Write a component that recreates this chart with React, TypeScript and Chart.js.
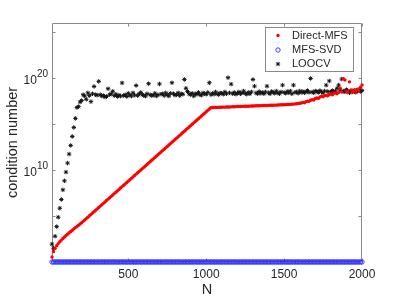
import React, { useEffect, useRef } from 'react';
import { Chart, registerables } from 'chart.js';

Chart.register(...registerables);

// N values (x)
const nValues = [
  10, 20, 30, 40, 50, 60, 70, 80, 90, 100, 110, 120, 130, 140, 150, 160, 170, 180, 190, 200,
  210, 220, 230, 240, 250, 260, 270, 280, 290, 300, 310, 320, 330, 340, 350, 360, 370, 380, 390, 400,
  410, 420, 430, 440, 450, 460, 470, 480, 490, 500, 510, 520, 530, 540, 550, 560, 570, 580, 590, 600,
  610, 620, 630, 640, 650, 660, 670, 680, 690, 700, 710, 720, 730, 740, 750, 760, 770, 780, 790, 800,
  810, 820, 830, 840, 850, 860, 870, 880, 890, 900, 910, 920, 930, 940, 950, 960, 970, 980, 990, 1000,
  1010, 1020, 1030, 1040, 1050, 1060, 1070, 1080, 1090, 1100, 1110, 1120, 1130, 1140, 1150, 1160, 1170, 1180, 1190, 1200,
  1210, 1220, 1230, 1240, 1250, 1260, 1270, 1280, 1290, 1300, 1310, 1320, 1330, 1340, 1350, 1360, 1370, 1380, 1390, 1400,
  1410, 1420, 1430, 1440, 1450, 1460, 1470, 1480, 1490, 1500, 1510, 1520, 1530, 1540, 1550, 1560, 1570, 1580, 1590, 1600,
  1610, 1620, 1630, 1640, 1650, 1660, 1670, 1680, 1690, 1700, 1710, 1720, 1730, 1740, 1750, 1760, 1770, 1780, 1790, 1800,
  1810, 1820, 1830, 1840, 1850, 1860, 1870, 1880, 1890, 1900, 1910, 1920, 1930, 1940, 1950, 1960, 1970, 1980, 1990, 2000,
];

// Direct-MFS condition number, as log10 exponents
const directMfsExponent = [
  0.55, 1.15, 1.5, 1.78, 2.0, 2.2, 2.38, 2.55, 2.72, 2.88, 3.03, 3.18, 3.32, 3.46, 3.6, 3.74, 3.87, 4.0, 4.13, 4.27,
  4.42, 4.57, 4.72, 4.87, 5.03, 5.18, 5.33, 5.48, 5.63, 5.78, 5.93, 6.08, 6.23, 6.38, 6.53, 6.69, 6.84, 6.99, 7.14, 7.29,
  7.44, 7.59, 7.74, 7.89, 8.05, 8.2, 8.35, 8.5, 8.65, 8.8, 8.95, 9.1, 9.25, 9.41, 9.56, 9.71, 9.86, 10.01, 10.16, 10.31,
  10.46, 10.61, 10.76, 10.91, 11.07, 11.22, 11.37, 11.52, 11.67, 11.82, 11.97, 12.12, 12.27, 12.42, 12.57, 12.73, 12.88, 13.03, 13.18, 13.33,
  13.48, 13.63, 13.78, 13.93, 14.08, 14.23, 14.39, 14.54, 14.69, 14.84, 14.99, 15.14, 15.29, 15.44, 15.59, 15.74, 15.89, 16.04, 16.19, 16.34,
  16.5, 16.65, 16.78, 16.8, 16.81, 16.81, 16.82, 16.83, 16.83, 16.84, 16.85, 16.85, 16.86, 16.87, 16.87, 16.88, 16.89, 16.89, 16.9, 16.91,
  16.91, 16.92, 16.93, 16.93, 16.94, 16.95, 16.95, 16.96, 16.97, 16.97, 16.98, 16.99, 16.99, 17.0, 17.01, 17.01, 17.02, 17.03, 17.03, 17.04,
  17.05, 17.05, 17.06, 17.07, 17.07, 17.08, 17.09, 17.1, 17.1, 17.11, 17.12, 17.13, 17.14, 17.15, 17.16, 17.18, 17.2, 17.22, 17.24, 17.27,
  17.3, 17.36, 17.33, 17.45, 17.5, 17.48, 17.6, 17.66, 17.62, 17.78, 17.85, 17.8, 17.95, 18.02, 17.98, 18.1, 18.15, 18.08, 18.22, 18.28,
  18.2, 18.35, 18.4, 18.3, 18.45, 18.9, 18.5, 19.95, 19.8, 18.55, 18.45, 19.6, 18.7, 18.5, 18.65, 18.55, 18.8, 18.6, 19.0, 19.25,
];

// MFS-SVD condition number
const mfsSvd = [
  1, 1, 1, 1, 1, 1, 1, 1, 1, 1, 1, 1, 1, 1, 1, 1, 1, 1, 1, 1,
  1, 1, 1, 1, 1, 1, 1, 1, 1, 1, 1, 1, 1, 1, 1, 1, 1, 1, 1, 1,
  1, 1, 1, 1, 1, 1, 1, 1, 1, 1, 1, 1, 1, 1, 1, 1, 1, 1, 1, 1,
  1, 1, 1, 1, 1, 1, 1, 1, 1, 1, 1, 1, 1, 1, 1, 1, 1, 1, 1, 1,
  1, 1, 1, 1, 1, 1, 1, 1, 1, 1, 1, 1, 1, 1, 1, 1, 1, 1, 1, 1,
  1, 1, 1, 1, 1, 1, 1, 1, 1, 1, 1, 1, 1, 1, 1, 1, 1, 1, 1, 1,
  1, 1, 1, 1, 1, 1, 1, 1, 1, 1, 1, 1, 1, 1, 1, 1, 1, 1, 1, 1,
  1, 1, 1, 1, 1, 1, 1, 1, 1, 1, 1, 1, 1, 1, 1, 1, 1, 1, 1, 1,
  1, 1, 1, 1, 1, 1, 1, 1, 1, 1, 1, 1, 1, 1, 1, 1, 1, 1, 1, 1,
  1, 1, 1, 1, 1, 1, 1, 1, 1, 1, 1, 1, 1, 1, 1, 1, 1, 1, 1, 1,
];

// LOOCV condition number, as log10 exponents
const loocvExponent = [
  1.95, 1.5, 2.8, 3.85, 4.87, 5.85, 6.8, 7.85, 8.83, 9.78, 10.76, 11.74, 12.68, 13.66, 14.64, 15.62, 16.8, 16.9, 17.4, 17.56,
  18.2, 18.05, 17.7, 18.4, 18.1, 17.45, 18.3, 19.1, 18.2, 18.15,
  19.65, 18.2, 18.05, 18.1, 17.95, 18.0, 18.85, 18.2, 18.3, 18.57,
  18.1, 18.25, 18.0, 18.15, 18.05, 19.48, 18.1, 18.2, 18.0, 18.35,
  18.15, 18.05, 18.4, 18.15, 19.2, 18.1, 18.3, 18.45, 18.2, 18.1,
  18.05, 18.3, 19.4, 18.2, 18.1, 18.15, 18.35, 18.05, 18.2, 19.37,
  18.25, 18.3, 18.1, 18.4, 18.2, 18.05, 18.35, 19.5, 18.3, 18.15,
  18.2, 18.4, 18.1, 18.3, 18.25, 19.86, 18.9, 18.55, 18.3, 18.2,
  18.35, 18.05, 18.3, 18.25, 18.45, 18.2, 18.15, 18.4, 18.3, 18.25,
  18.45, 19.5, 18.2, 18.35, 18.25, 18.5, 18.3, 18.2, 18.4, 18.35,
  18.25, 18.5, 18.3, 20.05, 18.4, 19.35, 18.3, 18.45, 18.25, 18.35,
  18.5, 18.3, 18.4, 18.6, 18.35, 18.25, 18.45, 18.3, 18.5, 19.86,
  19.13, 18.4, 18.3, 18.55, 18.35, 18.45, 18.3, 18.5, 19.13, 18.4,
  18.3, 18.55, 18.45, 18.35, 18.6, 18.4, 18.3, 18.5, 19.24, 18.45,
  18.35, 18.55, 18.4, 18.6, 18.3, 19.24, 18.45, 18.5, 18.35, 18.6,
  18.45, 18.55, 18.4, 18.5, 18.65, 18.45, 19.97, 18.5, 18.4, 18.6,
  18.55, 18.45, 18.65, 18.5, 18.4, 18.6, 19.24, 18.55, 19.7, 18.5,
  18.65, 18.45, 18.6, 18.9, 19.24, 18.7, 19.9, 18.6, 18.5, 18.75,
  18.55, 18.4, 18.65, 18.5, 18.7, 18.45, 18.6, 18.75, 18.55, 18.65,
];

const seriesNames = ['Direct-MFS', 'MFS-SVD', 'LOOCV'];
const xTicks = [500, 1000, 1500, 2000];
const yTicks = [1e5, 1e10, 1e15, 1e20, 1e25];
const yLabelValues = [1e10, 1e20];
const yLabelBase = ['10', '10'];
const yLabelPower = ['10', '20'];
const xTitle = 'N';
const yTitle = 'condition number';

const FONT = '"Liberation Sans", Arial, Helvetica, sans-serif';
const AXIS_COLOR = '#8a8a8a';
const TEXT_COLOR = '#262626';
const RED = '#ff0000';
const BLUE = '#2a2aff';
const BLACK = '#151515';

const boxPlugin = {
  id: 'matlabBox',
  beforeDatasetsDraw(chart: any) {
    const { ctx, chartArea, scales } = chart;
    const { left, right, top, bottom } = chartArea;
    const L = Math.round(left) + 0.5;
    const R = Math.round(right) - 0.5;
    const T = Math.round(top) + 0.5;
    const B = Math.round(bottom) - 0.5;
    ctx.save();
    ctx.strokeStyle = AXIS_COLOR;
    ctx.lineWidth = 1;
    ctx.beginPath();
    ctx.rect(L, T, R - L, B - T);
    const tl = 3;
    xTicks.forEach((v) => {
      const px = Math.round(scales.x.getPixelForValue(v)) + 0.5;
      ctx.moveTo(px, B);
      ctx.lineTo(px, B - tl);
      ctx.moveTo(px, T);
      ctx.lineTo(px, T + tl);
    });
    yTicks.forEach((v) => {
      const py = Math.round(scales.y.getPixelForValue(v)) + 0.5;
      ctx.moveTo(L, py);
      ctx.lineTo(L + tl, py);
      ctx.moveTo(R, py);
      ctx.lineTo(R - tl, py);
    });
    ctx.stroke();
    ctx.restore();
  },
};

// y tick labels with real superscript exponents (10^10, 10^20)
const powerLabelPlugin = {
  id: 'powerLabels',
  afterDraw(chart: any) {
    const { ctx, chartArea, scales } = chart;
    ctx.save();
    ctx.fillStyle = TEXT_COLOR;
    ctx.textBaseline = 'alphabetic';
    ctx.textAlign = 'left';
    yLabelValues.forEach((v, i) => {
      const py = scales.y.getPixelForValue(v);
      const baseFont = `12px ${FONT}`;
      const supFont = `10px ${FONT}`;
      ctx.font = supFont;
      const supW = ctx.measureText(yLabelPower[i]).width;
      ctx.font = baseFont;
      const baseW = ctx.measureText(yLabelBase[i]).width;
      const rightEdge = chartArea.left - 4;
      const startX = rightEdge - supW - baseW;
      ctx.fillText(yLabelBase[i], startX, py + 5.5);
      ctx.font = supFont;
      ctx.fillText(yLabelPower[i], startX + baseW, py - 1.5);
    });
    ctx.restore();
  },
};

const legendPlugin = {
  id: 'matlabLegend',
  afterDraw(chart: any) {
    const { ctx } = chart;
    const bx = 265.5, by = 27.5, bw = 88, bh = 44;
    ctx.save();
    ctx.fillStyle = '#ffffff';
    ctx.fillRect(bx, by, bw, bh);
    ctx.strokeStyle = AXIS_COLOR;
    ctx.lineWidth = 1;
    ctx.strokeRect(bx, by, bw, bh);
    const rows = [35.5, 50, 64];
    const mx = 278;
    ctx.fillStyle = RED;
    ctx.beginPath();
    ctx.arc(mx, rows[0], 1.7, 0, Math.PI * 2);
    ctx.fill();
    ctx.strokeStyle = BLUE;
    ctx.lineWidth = 0.9;
    ctx.beginPath();
    ctx.arc(mx, rows[1], 2.2, 0, Math.PI * 2);
    ctx.stroke();
    ctx.strokeStyle = BLACK;
    ctx.lineWidth = 1;
    ctx.beginPath();
    const r = 2.2;
    for (let k = 0; k < 4; k++) {
      const a = (k * Math.PI) / 4;
      ctx.moveTo(mx - r * Math.cos(a), rows[2] - r * Math.sin(a));
      ctx.lineTo(mx + r * Math.cos(a), rows[2] + r * Math.sin(a));
    }
    ctx.stroke();
    ctx.fillStyle = TEXT_COLOR;
    ctx.font = `11px ${FONT}`;
    ctx.textAlign = 'left';
    ctx.textBaseline = 'middle';
    seriesNames.forEach((name, i) => ctx.fillText(name, 292, rows[i]));
    ctx.restore();
  },
};

export default function App() {
  const canvasRef = useRef<HTMLCanvasElement | null>(null);

  useEffect(() => {
    const canvas = canvasRef.current;
    if (!canvas) return;
    const directData = nValues.map((n, i) => ({ x: n, y: Math.pow(10, directMfsExponent[i]) }));
    const svdData = nValues.map((n, i) => ({ x: n, y: mfsSvd[i] }));
    const loocvData = nValues.map((n, i) => ({ x: n, y: Math.pow(10, loocvExponent[i]) }));

    const chart = new Chart(canvas, {
      type: 'scatter',
      data: {
        datasets: [
          {
            label: seriesNames[0],
            data: directData,
            pointStyle: 'circle',
            pointRadius: 1.7,
            backgroundColor: RED,
            borderColor: RED,
            borderWidth: 0,
            showLine: false,
            clip: false,
          },
          {
            label: seriesNames[1],
            data: svdData,
            pointStyle: 'circle',
            pointRadius: 2.2,
            backgroundColor: 'rgba(0,0,0,0)',
            borderColor: BLUE,
            borderWidth: 0.9,
            showLine: false,
            clip: false,
          },
          {
            label: seriesNames[2],
            data: loocvData,
            pointStyle: 'star',
            pointRadius: 2.2,
            backgroundColor: BLACK,
            borderColor: BLACK,
            borderWidth: 1,
            showLine: false,
            clip: false,
          },
        ],
      } as any,
      options: {
        responsive: false,
        animation: false,
        events: [],
        layout: { padding: { left: 0, right: 37, top: 23, bottom: 0 } },
        plugins: {
          legend: { display: false },
          tooltip: { enabled: false },
        },
        scales: {
          x: {
            type: 'linear',
            min: 10,
            max: 2000,
            grid: { display: false, drawTicks: false },
            border: { display: false },
            afterBuildTicks: (s: any) => {
              s.ticks = xTicks.map((v) => ({ value: v }));
            },
            afterFit: (s: any) => {
              s.height = 37;
            },
            ticks: {
              padding: 5,
              autoSkip: false,
              maxRotation: 0,
              color: TEXT_COLOR,
              font: { family: FONT, size: 12 },
              callback: (v: any) => String(v),
            },
            title: {
              display: true,
              text: xTitle,
              color: TEXT_COLOR,
              font: { family: FONT, size: 14.5 },
              padding: { top: 0, bottom: 0 },
            },
          },
          y: {
            type: 'logarithmic',
            min: 1,
            max: 1e26,
            grid: { display: false, drawTicks: false },
            border: { display: false },
            afterBuildTicks: (s: any) => {
              s.ticks = yTicks.map((v) => ({ value: v }));
            },
            afterFit: (s: any) => {
              s.width = 52;
            },
            ticks: {
              padding: 4,
              autoSkip: false,
              color: TEXT_COLOR,
              font: { family: FONT, size: 12 },
              callback: () => '',
            },
            title: {
              display: true,
              text: yTitle,
              color: TEXT_COLOR,
              font: { family: FONT, size: 14.5 },
              padding: { top: 4, bottom: 0 },
            },
          },
        },
      } as any,
      plugins: [boxPlugin, powerLabelPlugin, legendPlugin],
    });
    return () => chart.destroy();
  }, []);

  return (
    <div style={{ position: 'absolute', left: 0, top: 0, width: 399, height: 299, background: '#ffffff' }}>
      <canvas ref={canvasRef} width={399} height={299} style={{ width: 399, height: 299, display: 'block' }} />
    </div>
  );
}
